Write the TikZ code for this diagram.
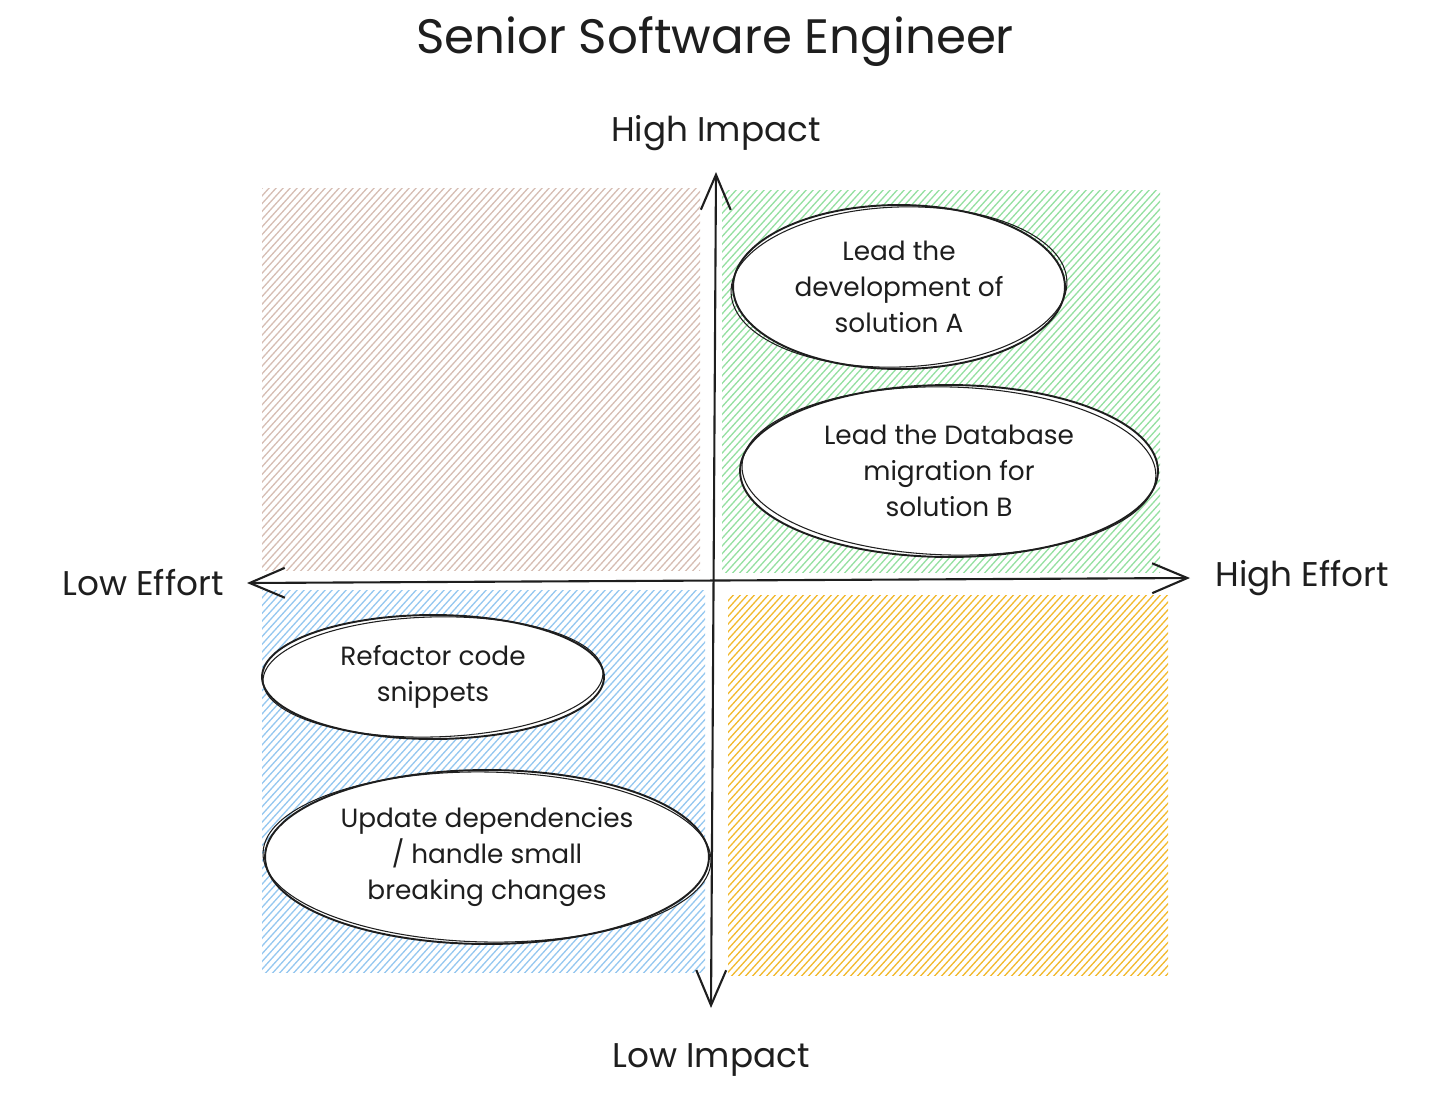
\documentclass[tikz,border=0pt]{standalone}
\usepackage{fontspec}
\setmainfont{Poppins}
\usepackage{tikz}
\usetikzlibrary{shapes.geometric,arrows.meta,positioning}
\definecolor{inkblack}{RGB}{30,30,30}
\definecolor{hbrown}{RGB}{214,190,180}
\definecolor{hgreen}{RGB}{150,224,162}
\definecolor{hblue}{RGB}{150,200,240}
\definecolor{hyellow}{RGB}{242,186,48}
\newcommand\titlefont{\fontsize{27.5}{33}\selectfont}
\newcommand\lblfont{\fontsize{19.5}{24}\selectfont}
\newcommand\bubfont{\fontsize{15}{20.4}\selectfont}
\tikzset{
	hatch/.style  = {line width=0.75pt,line cap=round},
	bubble/.style = {ellipse,draw=inkblack,line width=1.1pt,fill=white,
		inner sep=0pt,align=center,font=\bubfont,text=inkblack},
	sketch/.style = {draw=inkblack,line width=0.6pt},
	axis/.style   = {inkblack,line width=1.2pt,
		{Straight Barb[length=20pt,width=17pt]}-{Straight Barb[length=20pt,width=17pt]}},
	axlbl/.style  = {inner sep=0pt,font=\lblfont,text=inkblack},
	ttl/.style    = {inner sep=0pt,font=\titlefont,text=inkblack},
}
\begin{document}
\begin{tikzpicture}[x=0.02cm,y=-0.02cm]
	\useasboundingbox (0,0) rectangle (1456,1112);
	
	%% Quadrants (hachures)
	\foreach \xa/\ya/\xb/\yb/\col in {262/188/700/570/hbrown,
		722/190/1160/572/hgreen,262/590/705/972/hblue,
		728/595/1168/975/hyellow}{
		\begin{scope}
			\clip (\xa,\ya) rectangle (\xb,\yb);
			\foreach \k in {-350,-343,...,450}
			\draw[hatch,\col] (\xa+\k,\yb+5) -- ++(380,-420);
		\end{scope}
	}
	
	%% Titre
	\node (title) [ttl] at (715,42) {Senior Software Engineer};
	
	%% Axes
	\coordinate (xl) at (247,583);
	\coordinate (xr) at (1190,578);
	\coordinate (yt) at (716,172);
	\coordinate (yb) at (711,1008);
	\draw[axis] (xl)--(xr);
	\draw[axis] (yb)--(yt);
	\node (loeff) [axlbl,left=0.46cm of xl]  {Low Effort};
	\node (hieff) [axlbl,right=0.5cm of xr]  {High Effort};
	\node (hiimp) [axlbl,above=0.42cm of yt] {High Impact};
	\node (loimp) [axlbl,below=0.7cm of yb]  {Low Impact};
	
	%% Taches
	\node (leadA) [bubble,minimum width=6.64cm,minimum height=3.28cm]
	at (899,287) {Lead the\\development of\\solution A};
	\node (leadB) [bubble,minimum width=8.36cm,minimum height=3.44cm]
	at (949,471) {Lead the Database\\migration for\\solution B};
	\node (refac) [bubble,minimum width=6.84cm,minimum height=2.48cm]
	at (433,677) {Refactor code\\snippets};
	\node (deps)  [bubble,minimum width=8.88cm,minimum height=3.48cm]
	at (487,857) {Update dependencies\\/ handle small\\breaking changes};
	
	%% Traits doubles
	\foreach \n/\rx/\ry/\r in {leadA/168/80/2,leadB/207/84/-1.5,
		refac/170/60/1.5,deps/224/85/-1}
	\draw[sketch,rotate=\r] (\n.center) ellipse [x radius=\rx,y radius=\ry];
\end{tikzpicture}
\end{document}
